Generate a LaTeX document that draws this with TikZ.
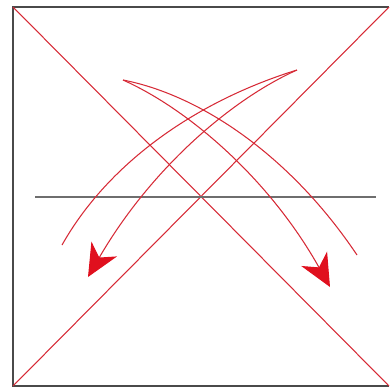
\documentclass[tikz,border=0pt]{standalone}
\usepackage{tikz}
\usetikzlibrary{arrows.meta}
\definecolor{Rojo}{HTML}{D62A36}
\definecolor{RojoVivo}{HTML}{E0101E}
\definecolor{Gris}{HTML}{6E6E6E}
\definecolor{GrisOscuro}{HTML}{4A4A4A}

\begin{document}
\begin{tikzpicture}[
  x=0.025cm,y=-0.025cm,
  marco/.style={draw=GrisOscuro,line width=1.3pt},
  diag/.style={draw=Rojo,line width=0.75pt},
  borde/.style={draw=Rojo,line width=0.75pt},
  flecha/.style={borde,-{Stealth[length=23pt,width=21pt,inset=7pt,fill=RojoVivo,color=RojoVivo]}}
]
  \useasboundingbox (0,0) rectangle (390,390);
  % Marco y diagonales.
  \coordinate (nw) at (13,7);
  \coordinate (ne) at (389,7);
  \coordinate (sw) at (13,386);
  \coordinate (se) at (389,386);
  \draw[marco] (ne)--(nw)--(sw)--(se);
  \draw[diag] (nw)--(se);
  \draw[diag] (sw)--(ne);

  % Linea horizontal.
  \coordinate (hizq) at (35,197);
  \coordinate (hder) at (376,197);
  \draw[Gris,line width=1.8pt] (hizq)--(hder);

  % Flecha curva hacia la izquierda.
  \coordinate (puntaA) at (297,70);
  \coordinate (finA) at (62,245);
  \coordinate (cabezaA) at (88,277);
  \draw[borde] (puntaA) .. controls (200,100) and (110,160) .. (finA);
  \draw[flecha] (puntaA) .. controls (230,100) and (150,170) .. (cabezaA);

  % Flecha curva hacia la derecha.
  \coordinate (puntaB) at (123,80);
  \coordinate (finB) at (357,255);
  \coordinate (cabezaB) at (330,287);
  \draw[borde] (puntaB) .. controls (200,95) and (290,155) .. (finB);
  \draw[flecha] (puntaB) .. controls (190,110) and (270,180) .. (cabezaB);
\end{tikzpicture}
\end{document}
